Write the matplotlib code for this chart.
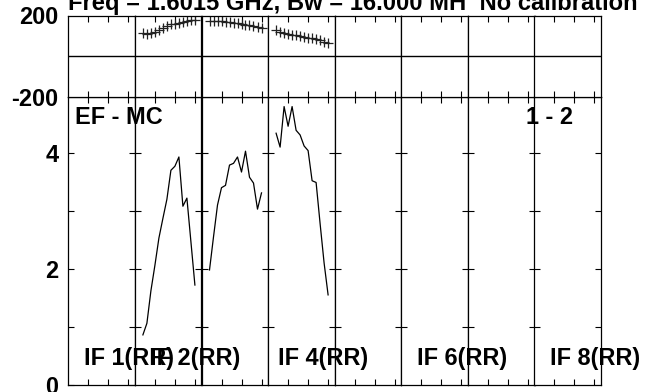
import matplotlib
matplotlib.use('Agg')
import matplotlib.pyplot as plt

plt.rcParams['font.family'] = ['Liberation Sans', 'DejaVu Sans']
plt.rcParams['font.weight'] = 'bold'
plt.rcParams['font.size'] = 16.9
plt.rcParams['axes.unicode_minus'] = False

W, H = 645, 392

# channel numbers, same in every IF panel
chan = [2, 3, 4, 5, 6, 7, 8, 9, 10, 11, 12, 13, 14, 15]

# amplitude (panels 2, 3, 4 have data)
amp_p2 = [0.87, 1.07, 1.63, 2.07, 2.54, 2.88, 3.21, 3.71, 3.78, 3.94, 3.09, 3.23, 2.48, 1.73]
amp_p3 = [1.99, 2.56, 3.11, 3.41, 3.45, 3.80, 3.83, 3.94, 3.68, 4.04, 3.59, 3.49, 3.04, 3.32]
amp_p4 = [4.35, 4.11, 4.81, 4.47, 4.81, 4.40, 4.32, 4.13, 4.05, 3.53, 3.50, 2.79, 2.11, 1.56]

# phase in degrees
ph_p2 = [115, 110, 112, 120, 130, 140, 150, 156, 160, 164, 168, 172, 176, 179]
ph_p3 = [173, 173, 172, 171, 169, 167, 164, 161, 158, 155, 151, 147, 143, 139]
ph_p4 = [129, 117, 112, 109, 105, 102, 99, 96, 91, 88, 83, 78, 71, 64]

amp_data = {1: amp_p2, 2: amp_p3, 3: amp_p4}
ph_data = {1: ph_p2, 2: ph_p3, 3: ph_p4}

if_labels = ['IF 1(RR)', 'IF 2(RR)', 'IF 4(RR)', 'IF 6(RR)', 'IF 8(RR)']
if_label_x = [84, 150, 278, 417, 550]

npanel = 8
xmax = 16.65
amp_max = 4.98


def fx(x):
    return x / W


def fy(y):
    return 1 - y / H


fig = plt.figure(figsize=(W / 100, H / 100), dpi=100)

left = 68.3
pw = 66.6
amp_top, amp_bot = 96.7, 385.3
ph_top, ph_bot = 15.5, 96.7

for i in range(npanel):
    # amplitude panel
    ax = fig.add_axes([fx(left + i * pw), fy(amp_bot), pw / W, (amp_bot - amp_top) / H])
    ax.set_xlim(0, xmax)
    ax.set_ylim(0, amp_max)
    ax.set_xticks([5, 10, 15])
    ax.set_xticklabels([])
    if i == 0:
        ax.set_yticks([0, 2, 4])
        ax.set_yticks([1, 3], minor=True)
    else:
        ax.set_yticks([1, 2, 3, 4])
        ax.set_yticklabels([])
    ax.tick_params(which='both', direction='in', length=4.3, width=0.8,
                   top=True, right=True, pad=7, labelsize=16.9)
    for s in ax.spines.values():
        s.set_linewidth(0.9)
    if i in amp_data:
        ax.plot(chan, amp_data[i], color='black', lw=0.9)

    # phase panel
    bx = fig.add_axes([fx(left + i * pw), fy(ph_bot), pw / W, (ph_bot - ph_top) / H])
    bx.set_xlim(0, xmax)
    bx.set_ylim(-200, 200)
    bx.set_xticks([5, 10, 15])
    bx.set_xticklabels([])
    bx.axhline(0, color='black', lw=1.0)
    if i == 0:
        bx.set_yticks([-200, 200])
    else:
        bx.set_yticks([])
    bx.tick_params(direction='in', length=4.3, width=0.8, top=True,
                   left=False, right=False, pad=7, labelsize=16.9)
    for s in bx.spines.values():
        s.set_linewidth(0.9)
    if i in ph_data:
        bx.plot(chan, ph_data[i], '+', color='#222222', ms=7, mew=0.9)

fig.text(fx(68), fy(10), 'Freq = 1.6015 GHz, Bw = 16.000 MH  No calibration',
         ha='left', va='baseline', fontsize=17.1)
fig.text(fx(75), fy(124.5), 'EF - MC', ha='left', va='baseline')
fig.text(fx(573), fy(124.5), '1 - 2', ha='right', va='baseline')
for lab, x in zip(if_labels, if_label_x):
    fig.text(fx(x), fy(365), lab, ha='left', va='baseline')

fig.savefig('out.png', dpi=100)
